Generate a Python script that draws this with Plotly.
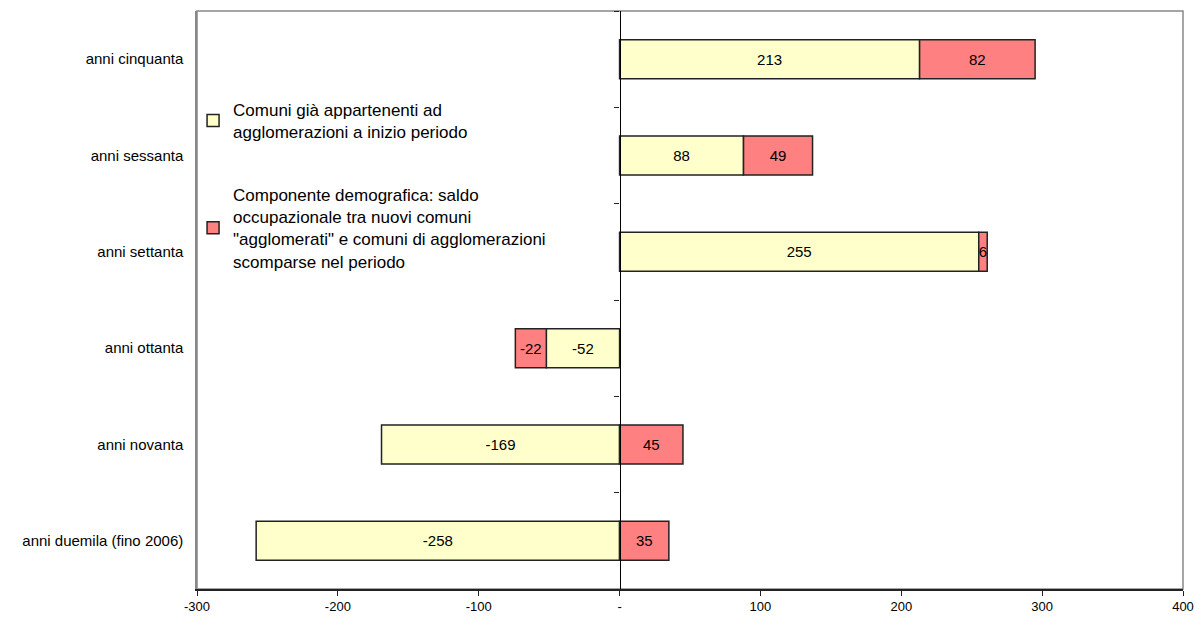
import plotly.graph_objects as go

# Dati
categorie = ["anni cinquanta", "anni sessanta", "anni settanta",
             "anni ottanta", "anni novanta", "anni duemila (fino 2006)"]
comuni_gia = [213, 88, 255, -52, -169, -258]
componente_demo = [82, 49, 6, -22, 45, 35]

nome_1 = "Comuni già appartenenti ad<br>agglomerazioni a inizio periodo"
nome_2 = ("Componente demografica: saldo<br>occupazionale tra nuovi comuni<br>"
          "\"agglomerati\" e comuni di agglomerazioni<br>scomparse nel periodo")

tick_x = [-300, -200, -100, 0, 100, 200, 300, 400]
tick_x_testo = ["-300", "-200", "-100", "-", "100", "200", "300", "400"]

fig = go.Figure()

fig.add_trace(go.Bar(y=categorie, x=comuni_gia, orientation="h", name=nome_1,
                     legendgroup="a",
                     marker=dict(color="#FFFFCC", line=dict(color="#222222", width=1.5)),
                     text=[str(v) for v in comuni_gia], textposition="inside",
                     insidetextanchor="middle", constraintext="none",
                     textfont=dict(color="black", size=15, family="Liberation Sans")))
fig.add_trace(go.Bar(y=categorie, x=componente_demo, orientation="h", name=nome_2,
                     legendgroup="b",
                     marker=dict(color="#FF8080", line=dict(color="#222222", width=1.5)),
                     text=[str(v) for v in componente_demo], textposition="inside",
                     insidetextanchor="middle", constraintext="none",
                     textfont=dict(color="black", size=15, family="Liberation Sans")))

# asse verticale sullo zero con le tacche tra le categorie
fig.add_trace(go.Scatter(y=categorie, x=[0] * len(categorie), yaxis="y2", mode="markers",
                         marker=dict(opacity=0), showlegend=False, hoverinfo="skip"))

fig.update_layout(
    width=1197, height=617,
    barmode="relative", bargap=0.595,
    plot_bgcolor="white", paper_bgcolor="white",
    margin=dict(l=197, r=14, t=11, b=28, autoexpand=False),
    font=dict(family="Liberation Sans", color="black"),
    xaxis=dict(range=[-300, 400], tickvals=tick_x, ticktext=tick_x_testo,
               ticks="outside", ticklen=5, tickcolor="#222222",
               showline=True, linecolor="#222222", linewidth=1.5, mirror=False,
               showgrid=False, zeroline=False, tickfont=dict(size=13)),
    yaxis=dict(type="category", categoryorder="array", categoryarray=categorie,
               autorange="reversed", showline=True, linecolor="#888888", linewidth=1.5,
               showgrid=False, ticks="", tickfont=dict(size=15), ticklabelstandoff=9),
    yaxis2=dict(type="category", categoryorder="array", categoryarray=categorie,
                matches="y", overlaying="y", anchor="free", position=300 / 700,
                showline=True, linecolor="black", linewidth=1.2,
                ticks="outside", tickson="boundaries", ticklen=5, tickcolor="#222222",
                showticklabels=False, showgrid=False),
    legend=dict(x=-0.004, y=0.86, xanchor="left", yanchor="top",
                bgcolor="rgba(0,0,0,0)", font=dict(size=17),
                traceorder="grouped", tracegroupgap=38),
    showlegend=True,
)

# cornice grigia del riquadro
fig.add_shape(type="rect", xref="paper", yref="paper", x0=0, y0=0, x1=1, y1=1,
              line=dict(color="#888888", width=1.5), layer="below")

# niente margine della pagina, così il grafico occupa esattamente la finestra
fig.write_html("out.html", config={"displayModeBar": False},
               post_script="document.body.style.margin='0';")
